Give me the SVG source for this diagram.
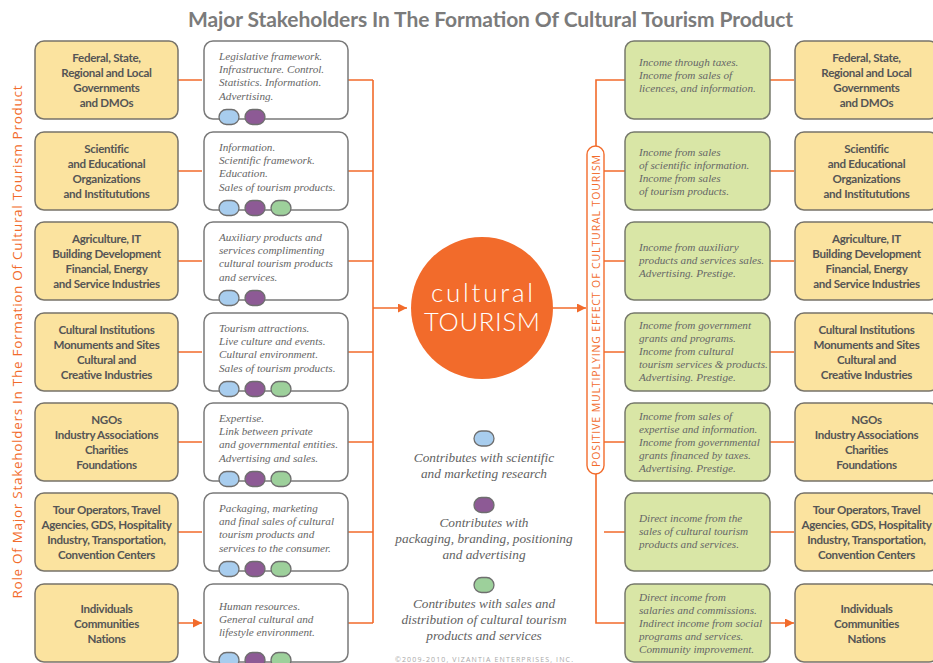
<svg xmlns="http://www.w3.org/2000/svg" width="933" height="663" viewBox="0 0 933 663">
<style>
.y{fill:#fbe39f;stroke:#77736a;stroke-width:1.5}
.w{fill:#ffffff;stroke:#7a7a7a;stroke-width:1.5}
.g{fill:#d9e6a6;stroke:#777a6c;stroke-width:1.5}
.yt{font-family:Lato,"Open Sans","Liberation Sans",sans-serif;font-weight:700;font-size:11.6px;letter-spacing:-0.3px;fill:#555555;text-anchor:middle}
.it{font-family:"Liberation Serif",serif;font-style:italic;font-size:11.2px;fill:#666666}
.lg{font-family:"Liberation Serif",serif;font-style:italic;font-size:13.3px;fill:#626262;text-anchor:middle}
.c{stroke:#f26b2b;stroke-width:1.6;fill:none}
.pb{fill:#a8cdee;stroke:#6e6e6e;stroke-width:1.3}
.pp{fill:#8d5a95;stroke:#6e6e6e;stroke-width:1.3}
.pg{fill:#9dd09b;stroke:#6e6e6e;stroke-width:1.3}
</style>
<defs>
<marker id="ah" viewBox="0 0 10 10" refX="10" refY="5" markerWidth="9" markerHeight="9" markerUnits="userSpaceOnUse" orient="auto">
<path d="M0,0 L10,5 L0,10 z" fill="#f26b2b"/>
</marker>
<rect id="pill" x="-10" y="-7.5" width="20" height="15" rx="7.5"/>
</defs>
<rect width="933" height="663" fill="#ffffff"/>
<text x="490.5" y="27" font-family="Lato,'Open Sans',sans-serif" font-weight="700" font-size="21" fill="#7b7b7b" text-anchor="middle" textLength="605">Major Stakeholders In The Formation Of Cultural Tourism Product</text>
<text transform="translate(22,342) rotate(-90)" font-family="'Open Sans',Lato,sans-serif" font-size="13.5" fill="#f26b2b" text-anchor="middle" textLength="513">Role Of Major Stakeholders In The Formation Of Cultural Tourism Product</text>

<g id="connectors">
<path class="c" d="M178,80H202M178,171H202M178,261H202M178,352H202M178,442H202M178,532H202M178,623H202" marker-end="url(#ah)"/>
<path class="c" d="M348,80H373M348,171H373M348,261H373M348,352H373M348,442H373M348,532H373M348,623H373M373,80V623"/>
<path class="c" d="M373,308H407" marker-end="url(#ah)"/>
<path class="c" d="M553,308H586" marker-end="url(#ah)"/>
<path class="c" d="M596,146V80H625M596,474V623H625M604,171H625M604,261H625M604,352H625M604,442H625M604,532H625"/>
<path class="c" d="M770,80H794M770,171H794M770,261H794M770,352H794M770,442H794M770,532H794M770,623H794" marker-end="url(#ah)"/>
</g>

<g id="center">
<circle cx="482" cy="308" r="71" fill="#f26b2b"/>
<text x="482" y="302" font-family="Lato,'Open Sans',sans-serif" font-weight="300" font-size="26" fill="#ffffff" text-anchor="middle" textLength="102">cultural</text>
<text x="482" y="331" font-family="Lato,'Open Sans',sans-serif" font-weight="300" font-size="25.5" fill="#ffffff" text-anchor="middle" textLength="116">TOURISM</text>
</g>

<g id="multiplier">
<rect x="587" y="146" width="17" height="328" rx="8.5" fill="#ffffff" stroke="#f26b2b" stroke-width="1.4"/>
<text transform="translate(599.5,311) rotate(-90)" font-family="'Open Sans',Lato,sans-serif" font-size="10.5" fill="#f26b2b" text-anchor="middle" textLength="312">POSITIVE MULTIPLYING EFFECT OF CULTURAL TOURISM</text>
</g>

<!-- Left stakeholders -->
<g id="L1"><rect class="y" x="35" y="41" width="143" height="78" rx="9"/><text class="yt" y="62"><tspan x="106.5">Federal, State,</tspan><tspan x="106.5" dy="15">Regional and Local</tspan><tspan x="106.5" dy="15">Governments</tspan><tspan x="106.5" dy="15">and DMOs</tspan></text></g>
<g id="L2"><rect class="y" x="35" y="132" width="143" height="78" rx="9"/><text class="yt" y="153"><tspan x="106.5">Scientific</tspan><tspan x="106.5" dy="15">and Educational</tspan><tspan x="106.5" dy="15">Organizations</tspan><tspan x="106.5" dy="15">and Institututions</tspan></text></g>
<g id="L3"><rect class="y" x="35" y="222" width="143" height="78" rx="9"/><text class="yt" y="243"><tspan x="106.5">Agriculture, IT</tspan><tspan x="106.5" dy="15">Building Development</tspan><tspan x="106.5" dy="15">Financial, Energy</tspan><tspan x="106.5" dy="15">and Service Industries</tspan></text></g>
<g id="L4"><rect class="y" x="35" y="313" width="143" height="78" rx="9"/><text class="yt" y="334"><tspan x="106.5">Cultural Institutions</tspan><tspan x="106.5" dy="15">Monuments and Sites</tspan><tspan x="106.5" dy="15">Cultural and</tspan><tspan x="106.5" dy="15">Creative Industries</tspan></text></g>
<g id="L5"><rect class="y" x="35" y="403" width="143" height="78" rx="9"/><text class="yt" y="424"><tspan x="106.5">NGOs</tspan><tspan x="106.5" dy="15">Industry Associations</tspan><tspan x="106.5" dy="15">Charities</tspan><tspan x="106.5" dy="15">Foundations</tspan></text></g>
<g id="L6"><rect class="y" x="35" y="493" width="143" height="78" rx="9"/><text class="yt" y="514"><tspan x="106.5">Tour Operators, Travel</tspan><tspan x="106.5" dy="15">Agencies, GDS, Hospitality</tspan><tspan x="106.5" dy="15">Industry, Transportation,</tspan><tspan x="106.5" dy="15">Convention Centers</tspan></text></g>
<g id="L7"><rect class="y" x="35" y="584" width="143" height="78" rx="9"/><text class="yt" y="612.5"><tspan x="106.5">Individuals</tspan><tspan x="106.5" dy="15">Communities</tspan><tspan x="106.5" dy="15">Nations</tspan></text></g>

<!-- Middle contributions -->
<g id="M1"><rect class="w" x="204" y="41" width="144" height="78" rx="9"/><text class="it" y="59.5"><tspan x="219">Legislative framework.</tspan><tspan x="219" dy="13.4">Infrastructure. Control.</tspan><tspan x="219" dy="13.4">Statistics. Information.</tspan><tspan x="219" dy="13.4">Advertising.</tspan></text><use href="#pill" x="229" y="117" class="pb"/><use href="#pill" x="255" y="117" class="pp"/></g>
<g id="M2"><rect class="w" x="204" y="132" width="144" height="78" rx="9"/><text class="it" y="150.5"><tspan x="219">Information.</tspan><tspan x="219" dy="13.4">Scientific framework.</tspan><tspan x="219" dy="13.4">Education.</tspan><tspan x="219" dy="13.4">Sales of tourism products.</tspan></text><use href="#pill" x="229" y="208" class="pb"/><use href="#pill" x="255" y="208" class="pp"/><use href="#pill" x="281" y="208" class="pg"/></g>
<g id="M3"><rect class="w" x="204" y="222" width="144" height="78" rx="9"/><text class="it" y="240.5"><tspan x="219">Auxiliary products and</tspan><tspan x="219" dy="13.4">services complimenting</tspan><tspan x="219" dy="13.4">cultural tourism products</tspan><tspan x="219" dy="13.4">and services.</tspan></text><use href="#pill" x="229" y="298" class="pb"/><use href="#pill" x="255" y="298" class="pp"/></g>
<g id="M4"><rect class="w" x="204" y="313" width="144" height="78" rx="9"/><text class="it" y="331.5"><tspan x="219">Tourism attractions.</tspan><tspan x="219" dy="13.4">Live culture and events.</tspan><tspan x="219" dy="13.4">Cultural environment.</tspan><tspan x="219" dy="13.4">Sales of tourism products.</tspan></text><use href="#pill" x="229" y="389" class="pb"/><use href="#pill" x="255" y="389" class="pp"/><use href="#pill" x="281" y="389" class="pg"/></g>
<g id="M5"><rect class="w" x="204" y="403" width="144" height="78" rx="9"/><text class="it" y="421.5"><tspan x="219">Expertise.</tspan><tspan x="219" dy="13.4">Link between private</tspan><tspan x="219" dy="13.4">and governmental entities.</tspan><tspan x="219" dy="13.4">Advertising and sales.</tspan></text><use href="#pill" x="229" y="479" class="pb"/><use href="#pill" x="255" y="479" class="pp"/><use href="#pill" x="281" y="479" class="pg"/></g>
<g id="M6"><rect class="w" x="204" y="493" width="144" height="78" rx="9"/><text class="it" y="511.5"><tspan x="219">Packaging, marketing</tspan><tspan x="219" dy="13.4">and final sales of cultural</tspan><tspan x="219" dy="13.4">tourism products and</tspan><tspan x="219" dy="13.4">services to the consumer.</tspan></text><use href="#pill" x="229" y="569" class="pb"/><use href="#pill" x="255" y="569" class="pp"/><use href="#pill" x="281" y="569" class="pg"/></g>
<g id="M7"><rect class="w" x="204" y="584" width="144" height="78" rx="9"/><text class="it" y="609.5"><tspan x="219">Human resources.</tspan><tspan x="219" dy="13.4">General cultural and</tspan><tspan x="219" dy="13.4">lifestyle environment.</tspan></text><use href="#pill" x="229" y="660" class="pb"/><use href="#pill" x="255" y="660" class="pp"/><use href="#pill" x="281" y="660" class="pg"/></g>

<!-- Legend -->
<g id="legend">
<use href="#pill" x="484" y="438.5" class="pb"/>
<text class="lg" x="484" y="462">Contributes with scientific</text>
<text class="lg" x="484" y="478">and marketing research</text>
<use href="#pill" x="484" y="505" class="pp"/>
<text class="lg" x="484" y="527">Contributes with</text>
<text class="lg" x="484" y="543">packaging, branding, positioning</text>
<text class="lg" x="484" y="559">and advertising</text>
<use href="#pill" x="484" y="585" class="pg"/>
<text class="lg" x="484" y="608">Contributes with sales and</text>
<text class="lg" x="484" y="624">distribution of cultural tourism</text>
<text class="lg" x="484" y="640">products and services</text>
<text x="484" y="662" font-family="'Open Sans',Lato,sans-serif" font-size="7" fill="#a8a8a8" text-anchor="middle" textLength="178">©2009-2010, VIZANTIA ENTERPRISES, INC.</text>
</g>

<!-- Right income -->
<g id="G1"><rect class="g" x="625" y="41" width="145" height="78" rx="9"/><text class="it" y="65.5"><tspan x="639">Income through taxes.</tspan><tspan x="639" dy="13.2">Income from sales of</tspan><tspan x="639" dy="13.2">licences, and information.</tspan></text></g>
<g id="G2"><rect class="g" x="625" y="132" width="145" height="78" rx="9"/><text class="it" y="155.5"><tspan x="639">Income from sales</tspan><tspan x="639" dy="13.2">of scientific information.</tspan><tspan x="639" dy="13.2">Income from sales</tspan><tspan x="639" dy="13.2">of tourism products.</tspan></text></g>
<g id="G3"><rect class="g" x="625" y="222" width="145" height="78" rx="9"/><text class="it" y="250.5"><tspan x="639">Income from auxiliary</tspan><tspan x="639" dy="13.2">products and services sales.</tspan><tspan x="639" dy="13.2">Advertising. Prestige.</tspan></text></g>
<g id="G4"><rect class="g" x="625" y="313" width="145" height="78" rx="9"/><text class="it" y="328.5"><tspan x="639">Income from government</tspan><tspan x="639" dy="13.2">grants and programs.</tspan><tspan x="639" dy="13.2">Income from cultural</tspan><tspan x="639" dy="13.2">tourism services &amp; products.</tspan><tspan x="639" dy="13.2">Advertising. Prestige.</tspan></text></g>
<g id="G5"><rect class="g" x="625" y="403" width="145" height="78" rx="9"/><text class="it" y="419.5"><tspan x="639">Income from sales of</tspan><tspan x="639" dy="13.2">expertise and information.</tspan><tspan x="639" dy="13.2">Income from governmental</tspan><tspan x="639" dy="13.2">grants financed by taxes.</tspan><tspan x="639" dy="13.2">Advertising. Prestige.</tspan></text></g>
<g id="G6"><rect class="g" x="625" y="493" width="145" height="78" rx="9"/><text class="it" y="521.5"><tspan x="639">Direct income from the</tspan><tspan x="639" dy="13.2">sales of cultural tourism</tspan><tspan x="639" dy="13.2">products and services.</tspan></text></g>
<g id="G7"><rect class="g" x="625" y="584" width="145" height="78" rx="9"/><text class="it" y="600.5"><tspan x="639">Direct income from</tspan><tspan x="639" dy="13.2">salaries and commissions.</tspan><tspan x="639" dy="13.2">Indirect income from social</tspan><tspan x="639" dy="13.2">programs and services.</tspan><tspan x="639" dy="13.2">Community improvement.</tspan></text></g>

<!-- Right stakeholders -->
<g id="R1"><rect class="y" x="795" y="41" width="143" height="78" rx="9"/><text class="yt" y="62"><tspan x="866.5">Federal, State,</tspan><tspan x="866.5" dy="15">Regional and Local</tspan><tspan x="866.5" dy="15">Governments</tspan><tspan x="866.5" dy="15">and DMOs</tspan></text></g>
<g id="R2"><rect class="y" x="795" y="132" width="143" height="78" rx="9"/><text class="yt" y="153"><tspan x="866.5">Scientific</tspan><tspan x="866.5" dy="15">and Educational</tspan><tspan x="866.5" dy="15">Organizations</tspan><tspan x="866.5" dy="15">and Institututions</tspan></text></g>
<g id="R3"><rect class="y" x="795" y="222" width="143" height="78" rx="9"/><text class="yt" y="243"><tspan x="866.5">Agriculture, IT</tspan><tspan x="866.5" dy="15">Building Development</tspan><tspan x="866.5" dy="15">Financial, Energy</tspan><tspan x="866.5" dy="15">and Service Industries</tspan></text></g>
<g id="R4"><rect class="y" x="795" y="313" width="143" height="78" rx="9"/><text class="yt" y="334"><tspan x="866.5">Cultural Institutions</tspan><tspan x="866.5" dy="15">Monuments and Sites</tspan><tspan x="866.5" dy="15">Cultural and</tspan><tspan x="866.5" dy="15">Creative Industries</tspan></text></g>
<g id="R5"><rect class="y" x="795" y="403" width="143" height="78" rx="9"/><text class="yt" y="424"><tspan x="866.5">NGOs</tspan><tspan x="866.5" dy="15">Industry Associations</tspan><tspan x="866.5" dy="15">Charities</tspan><tspan x="866.5" dy="15">Foundations</tspan></text></g>
<g id="R6"><rect class="y" x="795" y="493" width="143" height="78" rx="9"/><text class="yt" y="514"><tspan x="866.5">Tour Operators, Travel</tspan><tspan x="866.5" dy="15">Agencies, GDS, Hospitality</tspan><tspan x="866.5" dy="15">Industry, Transportation,</tspan><tspan x="866.5" dy="15">Convention Centers</tspan></text></g>
<g id="R7"><rect class="y" x="795" y="584" width="143" height="78" rx="9"/><text class="yt" y="612.5"><tspan x="866.5">Individuals</tspan><tspan x="866.5" dy="15">Communities</tspan><tspan x="866.5" dy="15">Nations</tspan></text></g>
</svg>
